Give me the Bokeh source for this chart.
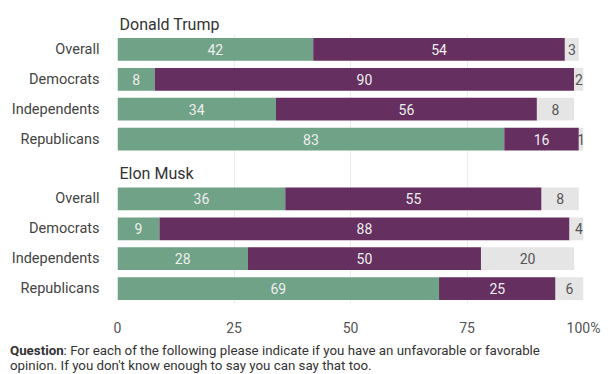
from bokeh.plotting import figure
from bokeh.layouts import column
from bokeh.models import FactorRange, Range1d, ColumnDataSource, FixedTicker, CustomJSTickFormatter, Div
from bokeh.embed import file_html
from bokeh.resources import INLINE
from bokeh.core.properties import value

groups = ["Overall", "Democrats", "Independents", "Republicans"]
trump_fav = [42, 8, 34, 83]
trump_unfav = [54, 90, 56, 16]
trump_dk = [3, 2, 8, 1]
musk_fav = [36, 9, 28, 69]
musk_unfav = [55, 88, 50, 25]
musk_dk = [8, 4, 20, 6]
x_ticks = [0, 25, 50, 75, 100]
x_tick_labels = ["0", "25", "50", "75", "100%"]

GREEN = "#6fa287"
PURPLE = "#652f60"
GRAY = "#e5e5e5"
FONT = "Roboto"

keys_t = ["Donald Trump|" + g for g in groups]
keys_m = ["Elon Musk|" + g for g in groups]
factors = keys_t + ["Elon Musk|"] + keys_m
rows = keys_t + keys_m
fav = trump_fav + musk_fav
unfav = trump_unfav + musk_unfav
dk = trump_dk + musk_dk

def seg(lefts, widths):
    rights = [l + w for l, w in zip(lefts, widths)]
    return ColumnDataSource(dict(
        y=rows, left=lefts, right=rights,
        xc=[(l + r) / 2 for l, r in zip(lefts, rights)],
        lab=[str(w) for w in widths]))

src_fav = seg([0] * len(rows), fav)
src_unfav = seg(fav, unfav)
src_dk = seg([a + b for a, b in zip(fav, unfav)], dk)

p = figure(width=612, height=338,
           y_range=FactorRange(*reversed(factors), range_padding=0),
           x_range=Range1d(0, 100),
           output_backend="svg", toolbar_location=None,
           min_border_left=117, min_border_right=29,
           min_border_top=34, min_border_bottom=31)

for src, col in ((src_fav, GREEN), (src_unfav, PURPLE), (src_dk, GRAY)):
    p.hbar(y="y", left="left", right="right", height=0.76, source=src,
           fill_color=col, line_color=None)

for src, col in ((src_fav, "#eeeeee"), (src_unfav, "#eeeeee"), (src_dk, "#555555")):
    p.text(x="xc", y="y", text="lab", source=src, text_align="center",
           text_baseline="middle", text_font=value(FONT),
           text_font_size="14px", text_color=col)

p.text(x=[0], y=["Elon Musk|"], text=["Elon Musk"], x_offset=2, y_offset=4,
       text_align="left", text_baseline="middle", text_font=value(FONT),
       text_font_size="16px", text_color="#333333")

p.title.text = "Donald Trump"
p.title.align = "left"
p.title.text_font = FONT
p.title.text_font_size = "16px"
p.title.text_font_style = "normal"
p.title.text_color = "#333333"
p.title.offset = 2
p.title.standoff = 1

ticker = FixedTicker(ticks=x_ticks)
p.xaxis.ticker = ticker
p.xaxis.major_label_overrides = {t: l for t, l in zip(x_ticks, x_tick_labels)}
p.xgrid.ticker = ticker
p.xgrid.grid_line_color = "#ebebeb"
p.ygrid.grid_line_color = None
p.outline_line_color = None

for ax in (p.xaxis, p.yaxis):
    ax.axis_line_color = None
    ax.major_tick_line_color = None
    ax.minor_tick_line_color = None
    ax.major_label_text_font = FONT
    ax.major_label_text_color = "#555555"

p.xaxis.major_label_text_font_size = "14px"
p.xaxis.major_label_standoff = 10
p.yaxis.major_label_text_font_size = "14.5px"
p.yaxis.major_label_standoff = 12
p.yaxis.major_label_text_color = "#444444"
p.yaxis.formatter = CustomJSTickFormatter(code="return tick.split('|')[1];")

note = Div(
    text=("<b>Question</b>: For each of the following please indicate if you have an "
          "unfavorable or favorable<br>opinion. If you don't know enough to say you can "
          "say that too."),
    width=600, height=36, margin=(0, 0, 0, 0),
    styles={"font-family": "Roboto", "font-size": "13.3px", "color": "#333333",
            "line-height": "15px", "padding-top": "5px", "padding-left": "10px",
            "white-space": "nowrap"})

layout = column(p, note, spacing=0)
open("out.html", "w").write(file_html(layout, INLINE))
